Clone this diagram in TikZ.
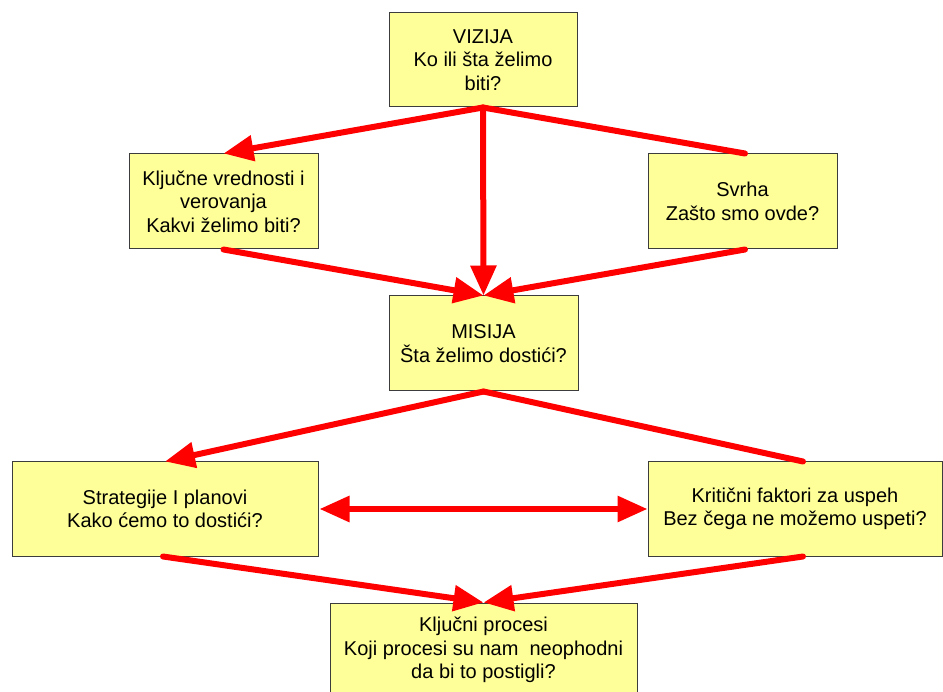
\documentclass[tikz,border=0pt]{standalone}
\usepackage{fontspec}
\setmainfont{Liberation Sans}
\usetikzlibrary{arrows.meta,calc}
\definecolor{boxfill}{RGB}{255,255,153}
\definecolor{boxline}{RGB}{60,60,60}
\begin{document}
\begin{tikzpicture}[x=1pt,y=-1pt,
  box/.style={draw=boxline,line width=1pt,fill=boxfill,inner sep=0pt,align=center,
    font=\fontsize{20}{23.5}\selectfont},
  conn/.style={draw=red,line width=6pt,line cap=round},
  tip/.style={-{Triangle[length=30pt,width=25pt]}},
  dtip/.style={{Triangle[length=30pt,width=25pt]}-{Triangle[length=30pt,width=25pt]}}]
\useasboundingbox (0,0) rectangle (943,692);
\clip (0,0) rectangle (943,692);
\node[box,minimum width=188pt,minimum height=94pt] (viz) at (483,60) {VIZIJA\\Ko ili šta želimo\\biti?};
\node[box,minimum width=189pt,minimum height=95pt] (klj) at (223.5,201.5) {Ključne vrednosti i\\verovanja\\Kakvi želimo biti?};
\node[box,minimum width=189pt,minimum height=95pt] (svr) at (742.5,201.5) {Svrha\\Zašto smo ovde?};
\node[box,minimum width=189pt,minimum height=95pt] (mis) at (483.5,343.5) {MISIJA\\Šta želimo dostići?};
\node[box,minimum width=306pt,minimum height=94pt] (str) at (165,509) {Strategije I planovi\\Kako ćemo to dostići?};
\node[box,minimum width=294pt,minimum height=94pt] (krit) at (795,509) {Kritični faktori za uspeh\\Bez čega ne možemo uspeti?};
\node[box,minimum width=307pt,minimum height=94pt] (proc) at (483.5,650) {Ključni procesi\\Koji procesi su nam~ neophodni\\da bi to postigli?};
% connectors
\draw[conn,tip] (viz.south) -- (klj.north);
\draw[conn] (viz.south) -- ([xshift=2.5pt]svr.north);
\draw[conn,tip] (viz.south) -- (mis.north);
\draw[conn,tip] (klj.south) -- (mis.north);
\draw[conn,tip] ([xshift=2.5pt]svr.south) -- (mis.north);
\draw[conn,tip] (mis.south) -- (str.north);
\draw[conn] (mis.south) -- ([xshift=8pt]krit.north);
\draw[conn,dtip] ([xshift=1pt]str.east) -- (krit.west);
\draw[conn,tip] ([xshift=-2pt]str.south) -- (proc.north);
\draw[conn,tip] ([xshift=8pt]krit.south) -- (proc.north);
\end{tikzpicture}
\end{document}
